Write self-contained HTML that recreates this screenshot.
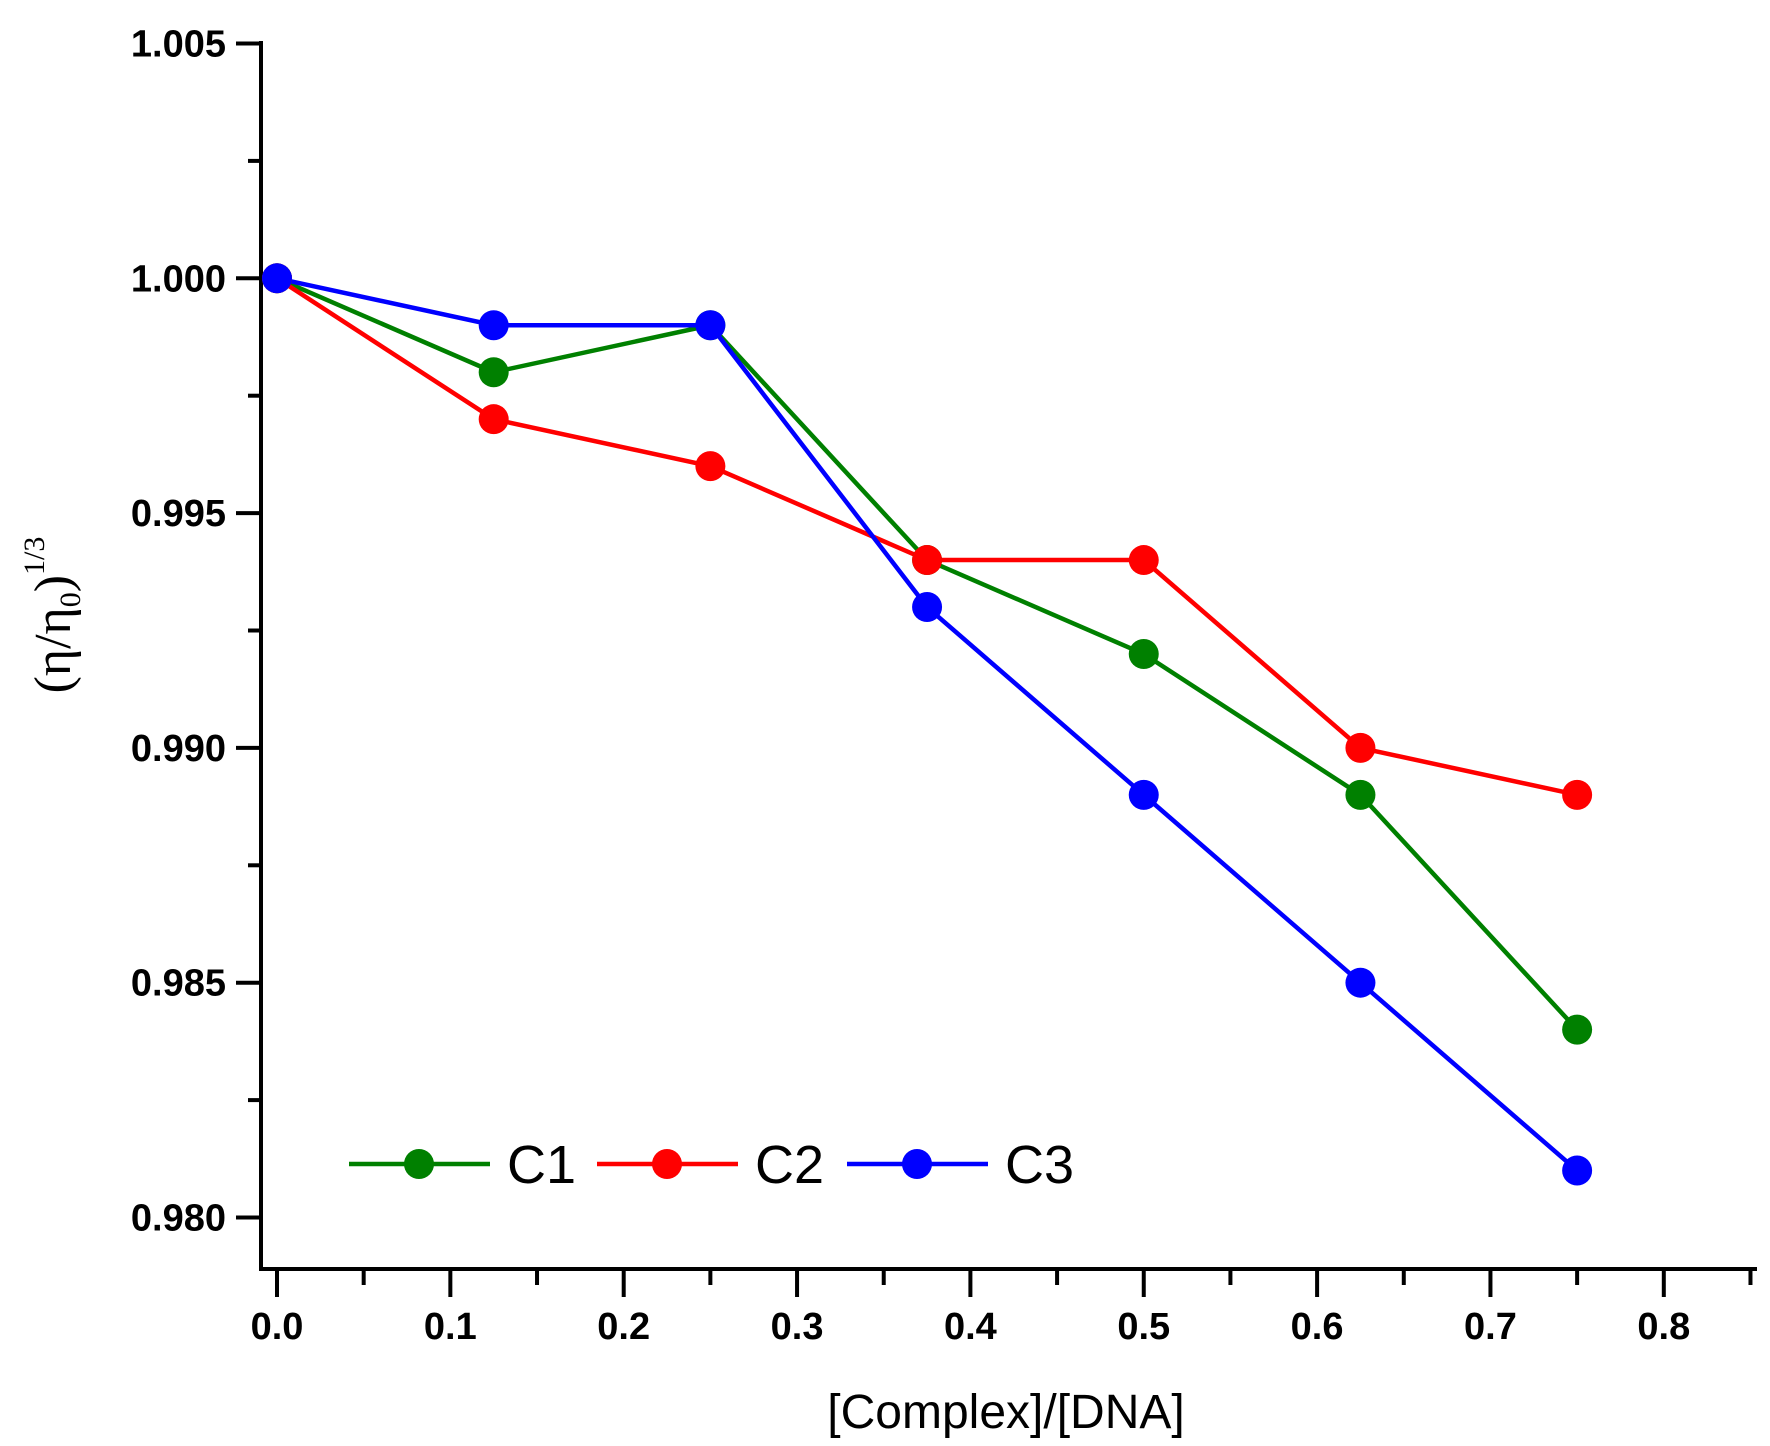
<!DOCTYPE html>
<html><head><meta charset="utf-8"><style>
body{margin:0;background:#fff}
svg{display:block}
</style></head><body>
<svg id="chart" width="1770" height="1446" viewBox="0 0 1770 1446" font-family="Liberation Sans, Arial, sans-serif">
<g id="axes"></g><g id="series"></g><g id="legend"></g>
</svg>
<script>
const xValues=[0,0.125,0.25,0.375,0.5,0.625,0.75];
const c1Values=[1.000,0.998,0.999,0.994,0.992,0.989,0.984];
const c2Values=[1.000,0.997,0.996,0.994,0.994,0.990,0.989];
const c3Values=[1.000,0.999,0.999,0.993,0.989,0.985,0.981];
const seriesNames=["C1","C2","C3"];
const xTicks=[0,0.1,0.2,0.3,0.4,0.5,0.6,0.7,0.8];
const xTickLabels=["0.0","0.1","0.2","0.3","0.4","0.5","0.6","0.7","0.8"];
const yTicks=[0.980,0.985,0.990,0.995,1.000,1.005];
const yTickLabels=["0.980","0.985","0.990","0.995","1.000","1.005"];

const NS="http://www.w3.org/2000/svg";
function X(v){return 277+v*1733.5;}
function Y(v){return 1217.5-(v-0.980)/0.005*234.8;}
function mk(tag,attrs,parent,txt){const e=document.createElementNS(NS,tag);for(const k in attrs)e.setAttribute(k,attrs[k]);if(txt!==undefined)e.textContent=txt;parent.appendChild(e);return e;}
const axes=document.getElementById('axes'),ser=document.getElementById('series'),leg=document.getElementById('legend');
let e;
e=mk('line',{x1:261,y1:41,x2:261,y2:1271,stroke:'#000','stroke-width':4},axes);


e=mk('line',{x1:259,y1:1269,x2:1757,y2:1269,stroke:'#000','stroke-width':4},axes);


yTicks.forEach((v,i)=>{
  const t=mk('line',{x1:236,y1:Y(v),x2:261,y2:Y(v),stroke:'#000','stroke-width':4},axes);
  
  
  const l=mk('text',{x:226,y:Y(v)+13,'text-anchor':'end','font-size':38,'font-weight':'bold'},axes,yTickLabels[i]);
  
  
  if(i<yTicks.length-1){
    const m=mk('line',{x1:248,y1:Y(v+0.0025),x2:261,y2:Y(v+0.0025),stroke:'#000','stroke-width':4},axes);
    
    
  }
});
xTicks.forEach((v,i)=>{
  const t=mk('line',{x1:X(v),y1:1269,x2:X(v),y2:1297,stroke:'#000','stroke-width':4},axes);
  
  
  const l=mk('text',{x:X(v),y:1339,'text-anchor':'middle','font-size':38,'font-weight':'bold'},axes,xTickLabels[i]);
  
  
  const m=mk('line',{x1:X(v+0.05),y1:1269,x2:X(v+0.05),y2:1285,stroke:'#000','stroke-width':4},axes);
  
  
});
e=mk('text',{x:1006,y:1428,'text-anchor':'middle','font-size':48},axes,'[Complex]/[DNA]');


e=mk('text',{transform:'translate(70,615) rotate(-90)','text-anchor':'middle','font-size':52,'font-family':'Liberation Serif, serif'},axes);


e.innerHTML='(η/η<tspan font-size="30" dy="10">0</tspan><tspan dy="-10">)</tspan><tspan font-size="30" dy="-26">1/3</tspan>';

const colors=["#008000","#ff0000","#0000ff"];
const data=[c1Values,c2Values,c3Values];
data.forEach((vals,s)=>{
  const p=mk('polyline',{points:vals.map((v,i)=>X(xValues[i])+','+Y(v)).join(' '),fill:'none',stroke:colors[s],'stroke-width':4.5},ser);
  
  
});
data.forEach((vals,s)=>{
  vals.forEach((v,i)=>{
    const c=mk('circle',{cx:X(xValues[i]),cy:Y(v),r:15,fill:colors[s]},ser);
    
    
  });
});
const legX=[349,597,847];
seriesNames.forEach((n,s)=>{
  const g=mk('g',{},leg);
  
  
  mk('line',{x1:legX[s],y1:1164,x2:legX[s]+141,y2:1164,stroke:colors[s],'stroke-width':4.5},g);
  mk('circle',{cx:legX[s]+70,cy:1164,r:15,fill:colors[s]},g);
  mk('text',{x:legX[s]+158,y:1183,'font-size':54},g,n);
});
</script>
</body></html>
